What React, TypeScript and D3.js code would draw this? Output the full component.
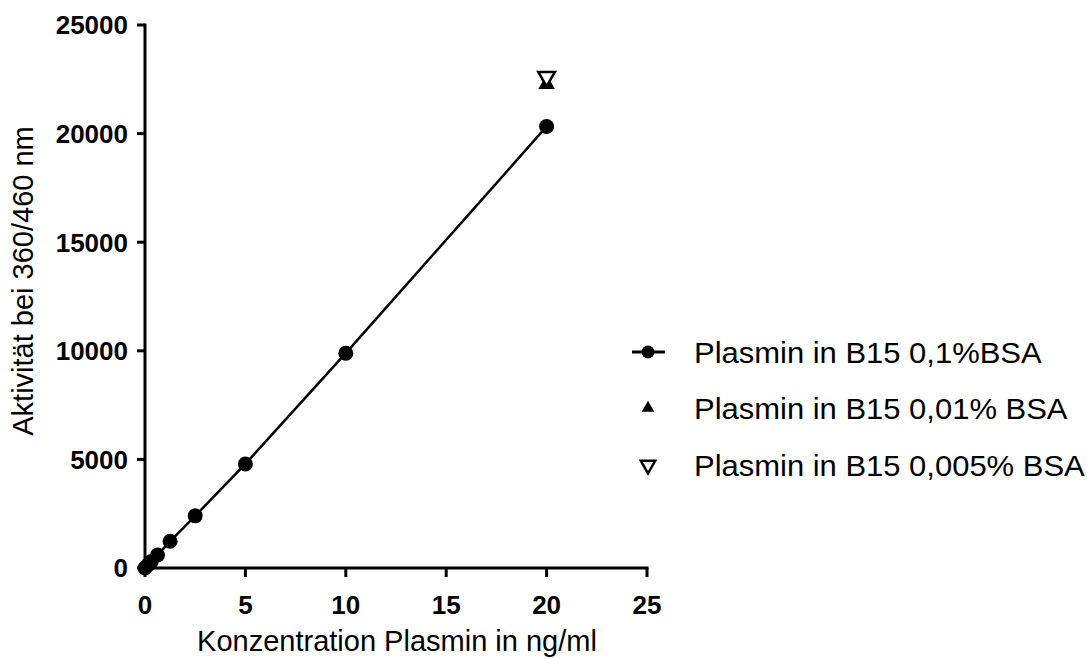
import React from "react";
import * as d3 from "d3";

const concentrations = [0, 0.156, 0.3125, 0.625, 1.25, 2.5, 5, 10, 20];
const bsa01Values = [0, 150, 300, 600, 1230, 2400, 4790, 9890, 20330];
const bsa001X = [20];
const bsa001Values = [22280];
const bsa0005X = [20];
const bsa0005Values = [22620];
const xTicks = [0, 5, 10, 15, 20, 25];
const yTicks = [0, 5000, 10000, 15000, 20000, 25000];
const legendLabels = [
  "Plasmin in B15 0,1%BSA",
  "Plasmin in B15 0,01% BSA",
  "Plasmin in B15 0,005% BSA",
];

const W = 1087;
const H = 659;
const left = 145;
const right = 647;
const top = 25;
const bottom = 568;

export default function App() {
  const x = d3.scaleLinear().domain([0, 25]).range([left, right]);
  const y = d3.scaleLinear().domain([0, 25000]).range([bottom, top]);
  const line = d3
    .line<number>()
    .x((_, i) => x(concentrations[i]))
    .y((d) => y(d));
  const tri = d3.symbol().type(d3.symbolTriangle).size(120)();
  const font = "Liberation Sans, Arial, sans-serif";
  const legendY = [352, 408, 465];
  return (
    <svg
      width={W}
      height={H}
      style={{ position: "absolute", left: 0, top: 0 }}
      fontFamily={font}
    >
      <rect width={W} height={H} fill="#fff" />
      {/* axes */}
      <line x1={left} x2={left} y1={top - 1.5} y2={bottom + 1.5} stroke="#000" strokeWidth={3} />
      <line x1={left - 1.5} x2={right + 1.5} y1={bottom} y2={bottom} stroke="#000" strokeWidth={3} />
      {yTicks.map((t) => (
        <g key={"y" + t}>
          <line x1={left - 8} x2={left} y1={y(t)} y2={y(t)} stroke="#000" strokeWidth={3} />
          <text
            x={left - 17}
            y={y(t)}
            dy="0.36em"
            textAnchor="end"
            fontSize={26}
            fontWeight="bold"
          >
            {t}
          </text>
        </g>
      ))}
      {xTicks.map((t) => (
        <g key={"x" + t}>
          <line x1={x(t)} x2={x(t)} y1={bottom} y2={bottom + 9} stroke="#000" strokeWidth={3} />
          <text x={x(t)} y={bottom + 46} textAnchor="middle" fontSize={26} fontWeight="bold">
            {t}
          </text>
        </g>
      ))}
      <text x={397} y={651} textAnchor="middle" fontSize={29}>
        Konzentration Plasmin in ng/ml
      </text>
      <text
        transform={`translate(33, 281) rotate(-90)`}
        textAnchor="middle"
        fontSize={29}
      >
        Aktivität bei 360/460 nm
      </text>
      {/* series 1 */}
      <path d={line(bsa01Values) || ""} fill="none" stroke="#000" strokeWidth={2.5} />
      {bsa01Values.map((v, i) => (
        <circle key={i} cx={x(concentrations[i])} cy={y(v)} r={7.5} fill="#000" />
      ))}
      {/* series 2: filled triangle */}
      {bsa001Values.map((v, i) => (
        <path key={"t" + i} d={tri || ""} transform={`translate(${x(bsa001X[i])},${y(v)})`} fill="#000" />
      ))}
      {/* series 3: open inverted triangle */}
      {bsa0005Values.map((v, i) => (
        <path
          key={"d" + i}
          d={tri || ""}
          transform={`translate(${x(bsa0005X[i])},${y(v)}) rotate(180)`}
          fill="#fff"
          stroke="#000"
          strokeWidth={2.5}
        />
      ))}
      {/* legend */}
      <line x1={632} x2={665} y1={legendY[0]} y2={legendY[0]} stroke="#000" strokeWidth={3} />
      <circle cx={648} cy={legendY[0]} r={6.5} fill="#000" />
      <path d={d3.symbol().type(d3.symbolTriangle).size(70)() || ""} transform={`translate(648,${legendY[1]})`} fill="#000" />
      <path
        d={d3.symbol().type(d3.symbolTriangle).size(90)() || ""}
        transform={`translate(648,${legendY[2]}) rotate(180)`}
        fill="#fff"
        stroke="#000"
        strokeWidth={2.5}
      />
      {legendLabels.map((l, i) => (
        <text
          key={l}
          transform={`translate(694, ${legendY[i]}) scale(1.05, 1)`}
          dy="0.36em"
          fontSize={29.5}
        >
          {l}
        </text>
      ))}
    </svg>
  );
}
